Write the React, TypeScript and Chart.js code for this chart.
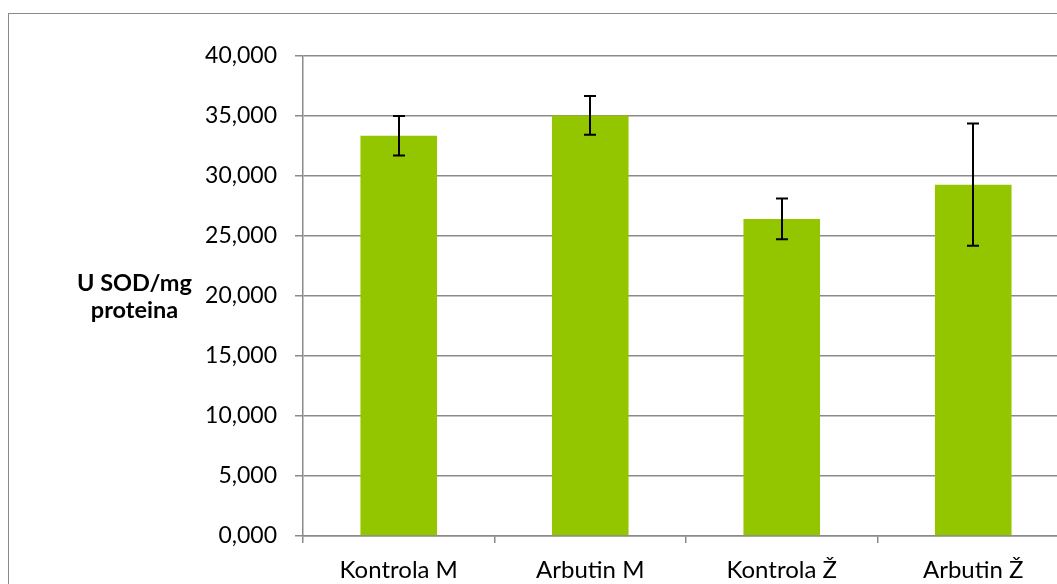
import React, { useEffect, useRef } from "react";
import { Chart, registerables } from "chart.js";

Chart.register(...registerables);

const categories = ["Kontrola M", "Arbutin M", "Kontrola Ž", "Arbutin Ž"];
const values = [33.35, 35.05, 26.42, 29.28];
const errors = [1.65, 1.62, 1.7, 5.1];
const yTicks = [0, 5, 10, 15, 20, 25, 30, 35, 40];
const yTitleLines = ["U SOD/mg", "proteina"];

const FONT = "Lato, 'Open Sans', sans-serif";
const GRID = "#8a8a8a";

const errorBarPlugin = {
  id: "errorBars",
  afterDatasetsDraw(chart: any) {
    const ctx = chart.ctx;
    const meta = chart.getDatasetMeta(0);
    const ys = chart.scales.y;
    ctx.save();
    ctx.strokeStyle = "#000";
    ctx.lineWidth = 2;
    meta.data.forEach((bar: any, i: number) => {
      const x = Math.round(bar.x);
      const top = ys.getPixelForValue(values[i] + errors[i]);
      const bot = ys.getPixelForValue(values[i] - errors[i]);
      ctx.beginPath();
      ctx.moveTo(x, top);
      ctx.lineTo(x, bot);
      ctx.moveTo(x - 6, top);
      ctx.lineTo(x + 6, top);
      ctx.moveTo(x - 6, bot);
      ctx.lineTo(x + 6, bot);
      ctx.stroke();
    });
    ctx.restore();
  },
};

const titlePlugin = {
  id: "yTitle",
  afterDraw(chart: any) {
    const ctx = chart.ctx;
    const area = chart.chartArea;
    ctx.save();
    ctx.fillStyle = "#000";
    ctx.font = `bold 23.5px ${FONT}`;
    ctx.textAlign = "center";
    ctx.textBaseline = "alphabetic";
    const cx = 134.5;
    const y0 = (area.top + area.bottom) / 2 - 5;
    ctx.fillText(yTitleLines[0], cx, y0);
    ctx.fillText(yTitleLines[1], cx, y0 + 27);
    ctx.restore();
  },
};

export default function App() {
  const ref = useRef<HTMLCanvasElement>(null);
  useEffect(() => {
    if (!ref.current) return;
    const chart = new Chart(ref.current, {
      type: "bar",
      data: {
        labels: categories,
        datasets: [
          {
            data: values,
            backgroundColor: "#94c600",
            borderWidth: 0,
            categoryPercentage: 1,
            barPercentage: 0.4,
          },
        ],
      },
      options: {
        responsive: false,
        animation: false,
        devicePixelRatio: 1,
        layout: { padding: { left: 0, top: 56, right: 31, bottom: 0 } },
        plugins: { legend: { display: false }, tooltip: { enabled: false } },
        scales: {
          x: {
            grid: {
              offset: true,
              drawOnChartArea: false,
              drawTicks: true,
              tickLength: 7,
              color: GRID,
              lineWidth: 1.5,
            },
            border: { color: GRID, width: 1.5 },
            ticks: {
              color: "#000",
              font: { family: FONT, size: 24 },
              padding: 13,
              maxRotation: 0,
            },
            afterFit(scale: any) {
              scale.height = 64;
            },
          },
          y: {
            min: 0,
            max: 40,
            afterBuildTicks(scale: any) {
              scale.ticks = yTicks.map((v) => ({ value: v }));
            },
            grid: { color: GRID, lineWidth: 1.5, tickLength: 8 },
            border: { color: GRID, width: 1.5 },
            ticks: {
              color: "#000",
              font: { family: FONT, size: 23 },
              padding: 18,
              callback: (v: any) => Number(v).toFixed(3).replace(".", ","),
            },
            afterFit(scale: any) {
              scale.width = 303;
            },
          },
        },
      },
      plugins: [errorBarPlugin, titlePlugin],
    });
    return () => chart.destroy();
  }, []);

  return (
    <div style={{ position: "fixed", left: 0, top: 0, width: 1057, height: 584, overflow: "hidden", background: "#fff" }}>
      <div
        style={{
          position: "absolute",
          left: 8,
          top: 13,
          width: 1200,
          height: 700,
          borderLeft: "1.5px solid #8a8a8a",
          borderTop: "1.5px solid #8a8a8a",
          boxSizing: "border-box",
        }}
      />
      <canvas ref={ref} width={1100} height={600} style={{ position: "absolute", left: 0, top: 0, width: 1100, height: 600 }} />
    </div>
  );
}
